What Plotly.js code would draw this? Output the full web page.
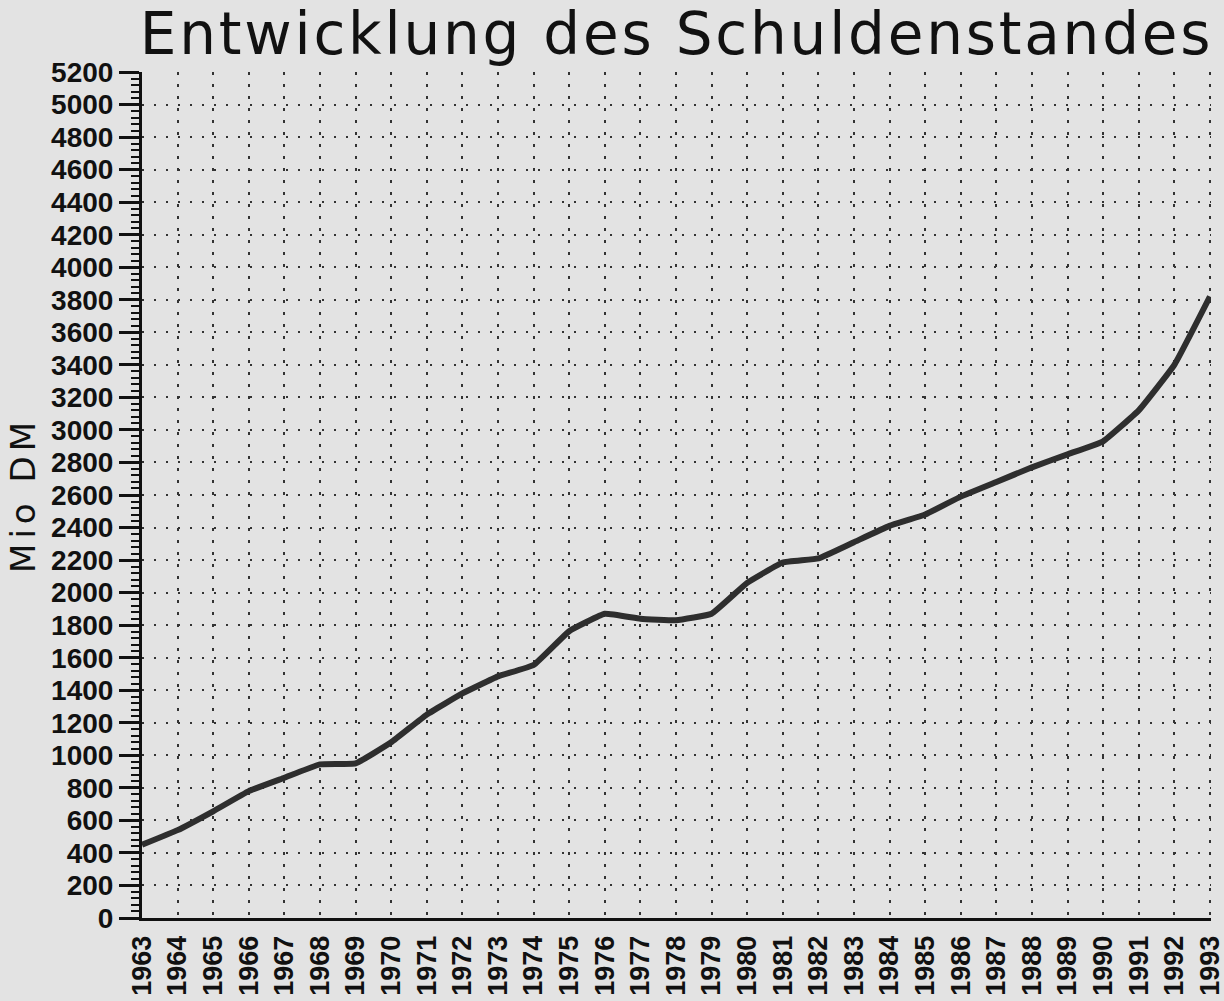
<!DOCTYPE html>
<html>
<head>
<meta charset="utf-8">
<script src="https://cdn.plot.ly/plotly-3.0.1.min.js"></script>
<style>html,body{margin:0;padding:0;background:#e3e3e3;}#chart{width:1224px;height:1001px;}</style>
</head>
<body>
<div id="chart"></div>
<script>
const years = [1963,1964,1965,1966,1967,1968,1969,1970,1971,1972,1973,1974,1975,1976,1977,1978,1979,1980,1981,1982,1983,1984,1985,1986,1987,1988,1989,1990,1991,1992,1993];
const debt = [450,540,656,780,862,944,950,1080,1250,1380,1485,1555,1763,1870,1840,1830,1870,2060,2185,2210,2310,2410,2480,2590,2680,2770,2850,2930,3120,3400,3820];
const yTicks = [0,200,400,600,800,1000,1200,1400,1600,1800,2000,2200,2400,2600,2800,3000,3200,3400,3600,3800,4000,4200,4400,4600,4800,5000,5200];
const xTickLabels = years.map(String);
const titleText = "Entwicklung des Schuldenstandes";
const yTitleText = "Mio DM";

const trace = {
  x: years, y: debt, type: 'scatter', mode: 'lines',
  line: {color: '#2e2e2e', width: 6, shape: 'spline', smoothing: 0.3},
  hoverinfo: 'skip', cliponaxis: false
};
const yTickFont = {family: 'Liberation Sans, Arial, sans-serif', size: 28, color: '#111', weight: 'bold'};
const xTickFont = {family: 'Liberation Sans, Arial, sans-serif', size: 27, color: '#111', weight: 'bold'};
const layout = {
  width: 1224, height: 1001,
  paper_bgcolor: '#e3e3e3', plot_bgcolor: '#e3e3e3',
  margin: {l: 142, r: 13, t: 72, b: 83, pad: 0},
  showlegend: false,
  title: {text: '<span style="letter-spacing:2.8px">' + titleText + '</span>',
          font: {family: 'DejaVu Sans, sans-serif', size: 58, color: '#111'},
          x: 0.5, xref: 'paper', xanchor: 'center', y: 0.987, yanchor: 'top'},
  xaxis: {
    range: [1963, 1993.03], tickmode: 'array', tickvals: years, ticktext: xTickLabels,
    tickangle: -90, tickfont: xTickFont, ticks: '', ticklabelstandoff: 4,
    ticklabeloverflow: 'allow',
    showline: true, linecolor: '#111', linewidth: 3,
    showgrid: true, gridcolor: '#333', gridwidth: 2, griddash: '3px,9px',
    zeroline: false, fixedrange: true
  },
  yaxis: {
    range: [0, 5200], tickmode: 'array', tickvals: yTicks,
    tickfont: yTickFont, ticks: 'outside', ticklen: 20, tickwidth: 3, tickcolor: '#111',
    minor: {dtick: 40, ticks: 'outside', ticklen: 8, tickwidth: 2, tickcolor: '#111', showgrid: false},
    showline: true, linecolor: '#111', linewidth: 3,
    showgrid: true, gridcolor: '#333', gridwidth: 2, griddash: '2px,10px',
    zeroline: false, fixedrange: true,
    title: {text: '<span style="letter-spacing:5px">' + yTitleText + '</span>',
            font: {family: 'DejaVu Sans, sans-serif', size: 34, color: '#111'}, standoff: 6}
  }
};
Plotly.newPlot('chart', [trace], layout, {displayModeBar: false, staticPlot: true});
</script>
</body>
</html>
